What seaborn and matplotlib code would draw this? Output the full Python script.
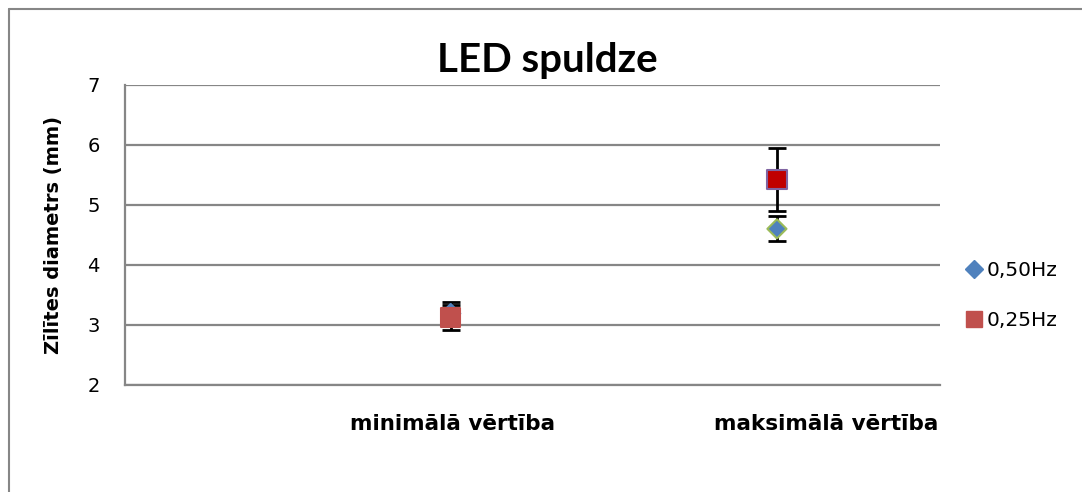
import matplotlib
matplotlib.use("Agg")
import matplotlib.pyplot as plt
import seaborn as sns
import numpy as np
import pandas as pd
from matplotlib.lines import Line2D
from matplotlib.transforms import ScaledTranslation

# ---- data ----
categories = ["minimālā vērtība", "maksimālā vērtība"]
series_names = ["0,50Hz", "0,25Hz"]
vals_050 = [3.19, 4.60]
err_050 = [0.19, 0.21]
vals_025 = [3.12, 5.42]
err_025 = [0.21, 0.52]
yticks = [2, 3, 4, 5, 6, 7]
title = "LED spuldze"
ylabel = "Zīlītes diametrs (mm)"

sns.set_theme(style="white")
plt.rcParams['font.family'] = ['DejaVu Sans']
plt.rcParams.update({"text.color": "black", "axes.labelcolor": "black",
                     "xtick.color": "black", "ytick.color": "black"})

fig = plt.figure(figsize=(10.82, 4.92), dpi=100)
ax = fig.add_axes([0.1151, 0.2175, 0.7537, 0.6103])

x = np.arange(len(categories))
grid_c = "#868686"

df = pd.DataFrame({
    "x": np.concatenate([x, x]),
    "y": vals_050 + vals_025,
    "err": err_050 + err_025,
    "series": [series_names[0]] * 2 + [series_names[1]] * 2,
})

# error bars
for name in series_names:
    d = df[df.series == name]
    ax.errorbar(d.x, d.y, yerr=d.err, fmt="none", ecolor="black",
                elinewidth=2, capsize=6.5, capthick=2, zorder=3)

# markers
d50 = df[df.series == series_names[0]]
sns.scatterplot(data=d50, x="x", y="y", marker="D", s=95, ax=ax,
                color="#4F81BD", linewidth=1.5, zorder=4, legend=False)
coll = ax.collections[-1]
coll.set_facecolor(["#4F81BD", "#4F81BD"])
coll.set_edgecolor(["#4F81BD", "#9BBB59"])

d25 = df[df.series == series_names[1]]
sns.scatterplot(data=d25, x="x", y="y", marker="s", s=190, ax=ax,
                color="#C0504D", linewidth=1.5, zorder=5, legend=False)
coll = ax.collections[-1]
coll.set_facecolor(["#C0504D", "#C00000"])
coll.set_edgecolor(["#C0504D", "#8064A2"])

ax.set_xlim(-1.0, 1.5)
ax.set_ylim(2, 7)
ax.set_yticks(yticks)
ax.set_yticklabels([str(t) for t in yticks], fontsize=14)
ax.set_xticks(x)
ax.set_xticklabels(categories, fontsize=15.5, fontweight="bold")
ax.tick_params(axis="both", length=0)
ax.tick_params(axis="y", pad=18)
ax.tick_params(axis="x", pad=21)
offsets = [2, 49]
for lbl, dx in zip(ax.get_xticklabels(), offsets):
    lbl.set_transform(lbl.get_transform() + ScaledTranslation(dx / 100, 0, fig.dpi_scale_trans))

ax.set_xlabel("")
ax.set_ylabel(ylabel, fontsize=14, fontweight="bold", labelpad=17)
ax.yaxis.grid(True, color=grid_c, linewidth=1.6)
ax.set_axisbelow(True)
for s in ["top", "right"]:
    ax.spines[s].set_visible(False)
for s in ["left", "bottom"]:
    ax.spines[s].set_color(grid_c)
    ax.spines[s].set_linewidth(1.6)

fig.text(0.5055, (492 - 72) / 492, title, ha="center", va="baseline",
         fontsize=29, fontweight="bold", family=["Lato", "DejaVu Sans"])

handles = [
    Line2D([], [], marker="D", linestyle="none", markersize=9, color="#4F81BD"),
    Line2D([], [], marker="s", linestyle="none", markersize=12, color="#C0504D"),
]
fig.legend(handles, series_names, loc="center left", bbox_to_anchor=(0.874, 0.40),
           frameon=False, fontsize=14.5, handletextpad=0.15, labelspacing=1.55,
           handlelength=1.0)

# chart frame (top and left edges visible)
fx0 = 8.5 / 1082
fy1 = 1 - 8.5 / 492
fig.add_artist(Line2D([fx0, 1.0], [fy1, fy1], transform=fig.transFigure,
                      color=grid_c, linewidth=1.5))
fig.add_artist(Line2D([fx0, fx0], [0.0, fy1], transform=fig.transFigure,
                      color=grid_c, linewidth=1.5))

fig.savefig("out.png", dpi=100, facecolor="white")
